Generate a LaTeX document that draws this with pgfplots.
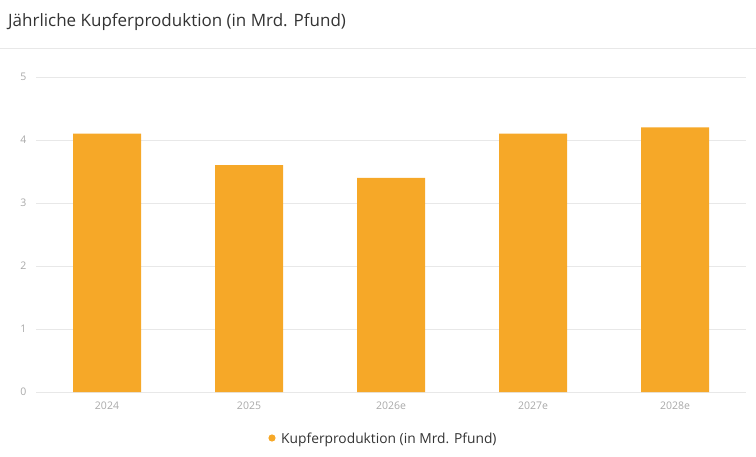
\documentclass[border=0pt]{standalone}
\usepackage{pgfplots}
\pgfplotsset{compat=1.18}
\usepackage{fontspec}
\setmainfont{Open Sans}
\definecolor{barc}{HTML}{F6A828}
\definecolor{gridc}{HTML}{E8E8E8}
\definecolor{tickc}{HTML}{A8A8A8}
\definecolor{titlec}{HTML}{333333}
\begin{document}
\begin{tikzpicture}[x=1pt,y=1pt]
\useasboundingbox (0,0) rectangle (756,456);
\node[anchor=base west, font=\fontsize{17}{20}\selectfont, text=titlec, inner sep=0] at (8,429.5) {Jährliche Kupferproduktion (in Mrd. Pfund)};
\draw[gridc, line width=0.8pt] (0,408) -- (756,408);
\begin{axis}[
  at={(36pt,64pt)}, anchor=south west,
  width=710pt, height=315pt, scale only axis,
  xmin=-0.5, xmax=4.5, ymin=0, ymax=5,
  axis line style={draw=none},
  ytick={0,1,2,3,4,5},
  xtick={0,1,2,3,4},
  xticklabels={2024,2025,2026e,2027e,2028e},
  ymajorgrids, grid style={gridc, line width=0.8pt},
  major tick length=0pt,
  tick label style={font=\fontsize{10.5}{12}\selectfont, text=tickc},
  /pgf/number format/assume math mode=true,
  yticklabel style={xshift=-6pt},
  xticklabel style={yshift=-6pt},
  clip=false,
]
\addplot[ybar, bar width=68pt, fill=barc, draw=none] coordinates {(0,4.1) (1,3.6) (2,3.4) (3,4.1) (4,4.2)};
\end{axis}
\fill[barc] (272,18) circle (3.6);
\node[anchor=base west, font=\fontsize{13.8}{16}\selectfont, text=titlec, inner sep=0] at (281,13) {Kupferproduktion (in Mrd. Pfund)};
\end{tikzpicture}
\end{document}
